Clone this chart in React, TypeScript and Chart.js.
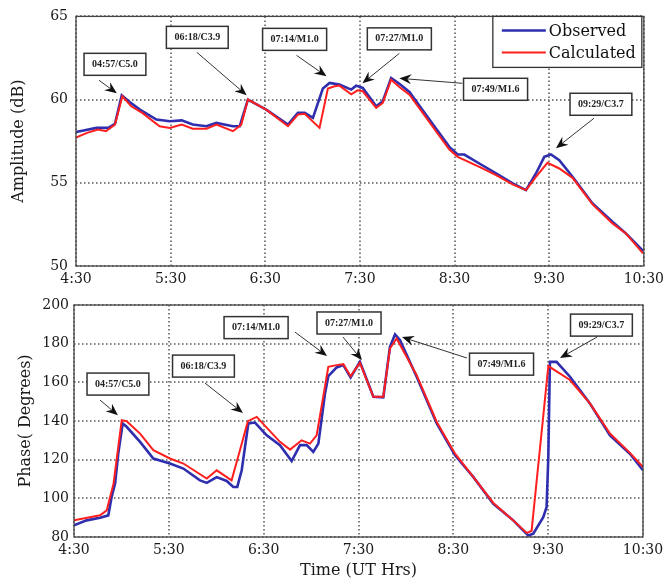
import React, { useEffect, useRef } from "react";
import { Chart, registerables } from "chart.js";

Chart.register(...registerables);

// Time axis in minutes after 00:00 UT
const timeTicks = [270, 330, 390, 450, 510, 570, 630];
const ampTicks = [50, 55, 60, 65];
const phaseTicks = [80, 100, 120, 140, 160, 180, 200];

const ampObsTime = [270, 283, 290.5, 294.7, 299, 304, 310.5, 321, 329.5, 337, 344, 352.7, 359, 369.5, 373.8, 379, 390.6, 404.4, 410.7, 415, 420.2, 426.5, 430.8, 437, 444.5, 447.6, 451.8, 460.3, 464.5, 469.8, 475, 481.4, 489.8, 498.2, 506.7, 512, 516.2, 525.7, 536.3, 546.8, 555.3, 561.6, 566.9, 571.1, 576.4, 584.8, 597.5, 610.1, 618.6, 629.5];
const ampObs = [58.05, 58.3, 58.3, 58.55, 60.26, 59.86, 59.4, 58.8, 58.7, 58.75, 58.5, 58.4, 58.6, 58.4, 58.4, 60.0, 59.4, 58.5, 59.2, 59.2, 58.9, 60.66, 61.0, 60.9, 60.6, 60.84, 60.7, 59.6, 59.9, 61.3, 60.95, 60.46, 59.36, 58.26, 57.16, 56.7, 56.7, 56.16, 55.56, 54.96, 54.56, 55.56, 56.56, 56.7, 56.36, 55.36, 53.76, 52.66, 51.96, 50.9];

const ampCalcTime = [270, 277, 284, 289, 294.7, 299.4, 305, 312, 323, 329.5, 337, 344, 352.7, 359, 369.5, 374.8, 379, 390.6, 404.4, 410.7, 415, 424.4, 429.7, 434, 437, 444.5, 448.5, 451.8, 460.3, 464.5, 469.8, 475, 481.4, 489.8, 498.2, 506.7, 512, 525.7, 536.3, 546.8, 555.3, 561.6, 568.9, 576.4, 584.8, 597.5, 610.1, 618.6, 629.5];
const ampCalc = [57.72, 58.0, 58.2, 58.1, 58.5, 60.2, 59.6, 59.2, 58.4, 58.3, 58.5, 58.25, 58.25, 58.5, 58.1, 58.5, 60.0, 59.4, 58.4, 59.1, 59.15, 58.3, 60.66, 60.8, 60.84, 60.32, 60.56, 60.5, 59.5, 59.8, 61.2, 60.76, 60.3, 59.2, 58.1, 57.0, 56.56, 55.96, 55.46, 54.9, 54.56, 55.36, 56.2, 55.86, 55.3, 53.7, 52.56, 51.96, 50.76];

const phaseObsTime = [270, 278, 286.5, 291.7, 293.8, 296, 298, 300.8, 303.3, 311.8, 320.2, 330.7, 339.2, 349.7, 354, 360.3, 366.6, 370.8, 373.3, 376.1, 380.3, 384.5, 391.9, 400.3, 407.7, 413, 417.2, 421.4, 424.6, 428.8, 430.9, 436.2, 440.4, 445, 450.9, 459.4, 465.7, 469.9, 473.1, 476.2, 486.8, 499.5, 511.1, 522.6, 535.3, 547.9, 557.4, 560.6, 566.9, 569, 570.1, 571.1, 575.3, 583.8, 596.4, 609.1, 621.7, 630];
const phaseObs = [86.0, 88.6, 90.0, 91.2, 100.7, 107.6, 123.1, 138.7, 137.0, 129.2, 120.6, 118.0, 115.4, 109.3, 108.0, 111.0, 109.0, 105.9, 105.9, 114.5, 138.7, 139.2, 132.6, 127.5, 119.3, 127.5, 127.5, 124.0, 128.3, 154.2, 163.2, 167.7, 168.9, 162.5, 170.6, 152.5, 152.2, 178.4, 184.8, 181.9, 162.9, 138.7, 122.3, 111.1, 97.2, 88.6, 80.8, 81.7, 90.3, 95.5, 121.4, 170.6, 170.6, 162.9, 149.1, 132.6, 123.1, 114.5];

const phaseCalcTime = [270, 286.5, 290.7, 295, 300.2, 303.3, 311.8, 320.2, 330.7, 339.2, 354, 360.3, 369.7, 375, 380, 385.6, 400.3, 406.7, 414, 419.3, 423.5, 430.9, 436.2, 440.4, 445, 450.9, 459.4, 465.7, 469.9, 474.1, 486.8, 499.5, 511.1, 522.6, 535.3, 547.9, 556.4, 559.5, 570.1, 583.8, 596.4, 609.1, 621.7, 630];
const phaseCalc = [88.6, 91.2, 93.8, 107.6, 140.4, 139.9, 133.5, 124.9, 120.6, 118.0, 110.2, 114.5, 109.3, 124.9, 139.9, 142.1, 129.2, 125.2, 130.0, 128.3, 132.6, 168.0, 168.9, 169.4, 163.2, 170.1, 152.5, 152.5, 177.5, 182.7, 163.7, 139.5, 123.1, 111.1, 97.6, 88.6, 82.1, 83.1, 168.4, 161.2, 149.1, 133.5, 123.5, 116.2];

// Flare callouts: label, box centre (time, value), arrow tail, arrow head
const flareLabels = ["04:57/C5.0", "06:18/C3.9", "07:14/M1.0", "07:27/M1.0", "07:49/M1.6", "09:29/C3.7"];
const ampBoxAt = [[294.7, 62.12], [346.9, 63.74], [408.6, 63.62], [475, 63.65], [536, 60.62], [602.8, 59.72]];
const ampTail = [[284.6, 61.16], [346.6, 62.84], [409.8, 62.66], [475, 62.78], [514.9, 60.98], [598.4, 58.88]];
const ampHead = [[295.9, 60.38], [378.2, 60.26], [428.8, 61.4], [451.6, 60.98], [475, 61.28], [574.3, 57.08]];
const phaseBoxAt = [[297.8, 159.1], [351.9, 168.4], [385.2, 188.3], [444, 190.7], [540.5, 169.4], [603.7, 189.6]];
const phaseTail = [[286.5, 150.8], [352.9, 159.6], [409.8, 186.0], [440.2, 183.4], [518.6, 172.6], [600.9, 183.4]];
const phaseHead = [[297.8, 143.0], [376.9, 144.1], [430.1, 173.6], [452.2, 171.5], [477.5, 183.4], [577.5, 172.6]];

const seriesNames = ["Observed", "Calculated"];
const BLUE = "#2e2eae";
const RED = "#ff1f1f";
const SERIF = "'DejaVu Serif', serif";

const toPts = (xs: number[], ys: number[]) => xs.map((x, i) => ({ x, y: ys[i] }));
const fmtTime = (v: number) => `${Math.floor(v / 60)}:${String(Math.round(v % 60)).padStart(2, "0")}`;

function drawArrow(ctx: CanvasRenderingContext2D, x1: number, y1: number, x2: number, y2: number) {
  const ang = Math.atan2(y2 - y1, x2 - x1);
  const L = 12, W = 5, notch = 4;
  ctx.strokeStyle = "#333";
  ctx.lineWidth = 1;
  ctx.setLineDash([]);
  ctx.beginPath();
  ctx.moveTo(x1, y1);
  ctx.lineTo(x2 - Math.cos(ang) * (L - notch), y2 - Math.sin(ang) * (L - notch));
  ctx.stroke();
  ctx.save();
  ctx.translate(x2, y2);
  ctx.rotate(ang);
  ctx.fillStyle = "#111";
  ctx.beginPath();
  ctx.moveTo(0, 0);
  ctx.lineTo(-L, -W);
  ctx.lineTo(-L + notch, 0);
  ctx.lineTo(-L, W);
  ctx.closePath();
  ctx.fill();
  ctx.restore();
}

function makeOverlay(xTicks: number[], yTicks: number[], boxAt: number[][], tail: number[][], head: number[][], legend: boolean) {
  return {
    id: "overlay",
    beforeDatasetsDraw(chart: any) {
      const { ctx, chartArea: a, scales } = chart;
      ctx.save();
      ctx.strokeStyle = "#555";
      ctx.lineWidth = 1.5;
      ctx.setLineDash([1.5, 2.5]);
      xTicks.forEach((v) => {
        const x = Math.round(scales.x.getPixelForValue(v));
        ctx.beginPath();
        ctx.moveTo(x, a.top);
        ctx.lineTo(x, a.bottom);
        ctx.stroke();
      });
      yTicks.forEach((v) => {
        const y = Math.round(scales.y.getPixelForValue(v));
        ctx.beginPath();
        ctx.moveTo(a.left, y);
        ctx.lineTo(a.right, y);
        ctx.stroke();
      });
      ctx.restore();
    },
    afterDatasetsDraw(chart: any) {
      const { ctx, chartArea: a, scales } = chart;
      const sx = scales.x, sy = scales.y;
      ctx.save();
      // axes frame
      ctx.strokeStyle = "#444";
      ctx.lineWidth = 1.3;
      ctx.setLineDash([]);
      ctx.strokeRect(a.left, a.top, a.right - a.left, a.bottom - a.top);
      // callouts
      ctx.font = `bold 10px 'Liberation Serif', serif`;
      flareLabels.forEach((lab, i) => {
        drawArrow(
          ctx,
          sx.getPixelForValue(tail[i][0]), sy.getPixelForValue(tail[i][1]),
          sx.getPixelForValue(head[i][0]), sy.getPixelForValue(head[i][1])
        );
      });
      flareLabels.forEach((lab, i) => {
        const cx = sx.getPixelForValue(boxAt[i][0]);
        const cy = sy.getPixelForValue(boxAt[i][1]);
        const w = ctx.measureText(lab).width + 16;
        const h = 22;
        ctx.fillStyle = "#fff";
        ctx.fillRect(cx - w / 2, cy - h / 2, w, h);
        ctx.strokeStyle = "#333";
        ctx.lineWidth = 1.5;
        ctx.strokeRect(cx - w / 2, cy - h / 2, w, h);
        ctx.fillStyle = "#222";
        ctx.textAlign = "center";
        ctx.textBaseline = "middle";
        ctx.fillText(lab, cx, cy);
      });
      if (legend) {
        const w = 149, h = 51;
        const x0 = a.right - w - 2, y0 = a.top;
        ctx.fillStyle = "#fff";
        ctx.fillRect(x0, y0, w, h);
        ctx.strokeStyle = "#333";
        ctx.lineWidth = 1.3;
        ctx.strokeRect(x0, y0, w, h);
        ctx.font = `16px ${SERIF}`;
        ctx.textAlign = "left";
        ctx.textBaseline = "middle";
        [BLUE, RED].forEach((c, i) => {
          const y = y0 + 14 + i * 22;
          ctx.strokeStyle = c;
          ctx.lineWidth = i === 0 ? 2.5 : 2;
          ctx.beginPath();
          ctx.moveTo(x0 + 9, y);
          ctx.lineTo(x0 + 53, y);
          ctx.stroke();
          ctx.fillStyle = "#111";
          ctx.fillText(seriesNames[i], x0 + 56, y + 1);
        });
      }
      ctx.restore();
    },
  };
}

function makeConfig(opts: {
  obs: { x: number; y: number }[];
  calc: { x: number; y: number }[];
  yTicks: number[];
  yTitle: string;
  yTitlePad: number;
  yWidth: number;
  yTickPad: number;
  padTop: number;
  padRight: number;
  xHeight: number;
  xTitle: string | null;
  overlay: any;
}): any {
  const tickFont = { family: SERIF, size: 14 };
  return {
    type: "line",
    data: {
      datasets: [
        { label: seriesNames[0], data: opts.obs, borderColor: BLUE, borderWidth: 2.6, pointRadius: 0, tension: 0, order: 2 },
        { label: seriesNames[1], data: opts.calc, borderColor: RED, borderWidth: 2, pointRadius: 0, tension: 0, order: 1 },
      ],
    },
    options: {
      responsive: false,
      animation: false,
      events: [],
      layout: { padding: { left: 0, top: opts.padTop, right: opts.padRight, bottom: 0 } },
      plugins: { legend: { display: false }, tooltip: { enabled: false } },
      scales: {
        x: {
          type: "linear",
          min: timeTicks[0],
          max: timeTicks[timeTicks.length - 1],
          afterBuildTicks: (s: any) => { s.ticks = timeTicks.map((v) => ({ value: v })); },
          afterFit: (s: any) => { s.height = opts.xHeight; },
          ticks: { font: tickFont, color: "#1a1a1a", padding: 5, maxRotation: 0, autoSkip: false, callback: (v: any) => fmtTime(Number(v)) },
          grid: { display: false, drawTicks: false },
          border: { display: false },
          title: opts.xTitle
            ? { display: true, text: opts.xTitle, font: { family: SERIF, size: 16 }, color: "#1a1a1a", padding: { top: 0, bottom: 1 } }
            : { display: false },
        },
        y: {
          type: "linear",
          min: opts.yTicks[0],
          max: opts.yTicks[opts.yTicks.length - 1],
          afterBuildTicks: (s: any) => { s.ticks = opts.yTicks.map((v) => ({ value: v })); },
          afterFit: (s: any) => { s.width = opts.yWidth; },
          ticks: { font: tickFont, color: "#1a1a1a", padding: opts.yTickPad, autoSkip: false },
          grid: { display: false, drawTicks: false },
          border: { display: false },
          title: { display: true, text: opts.yTitle, font: { family: SERIF, size: 16 }, color: "#1a1a1a", padding: { top: opts.yTitlePad, bottom: 0 } },
        },
      },
    },
    plugins: [opts.overlay],
  };
}

export default function App() {
  const topRef = useRef<HTMLCanvasElement>(null);
  const botRef = useRef<HTMLCanvasElement>(null);

  useEffect(() => {
    const top = new Chart(topRef.current!, makeConfig({
      obs: toPts(ampObsTime, ampObs),
      calc: toPts(ampCalcTime, ampCalc),
      yTicks: ampTicks,
      yTitle: "Amplitude (dB)",
      yTitlePad: 9,
      yWidth: 76,
      yTickPad: 8,
      padTop: 16,
      padRight: 24,
      xHeight: 24,
      xTitle: null,
      overlay: makeOverlay(timeTicks, ampTicks, ampBoxAt, ampTail, ampHead, true),
    }));
    const bot = new Chart(botRef.current!, makeConfig({
      obs: toPts(phaseObsTime, phaseObs),
      calc: toPts(phaseCalcTime, phaseCalc),
      yTicks: phaseTicks,
      yTitle: "Phase( Degrees)",
      yTitlePad: 16,
      yWidth: 74,
      yTickPad: 5,
      padTop: 15,
      padRight: 26,
      xHeight: 44,
      xTitle: "Time (UT Hrs)",
      overlay: makeOverlay(timeTicks, phaseTicks, phaseBoxAt, phaseTail, phaseHead, false),
    }));
    return () => { top.destroy(); bot.destroy(); };
  }, []);

  return (
    <div style={{ position: "absolute", left: 0, top: 0, width: 669, height: 581, background: "#fff" }}>
      <canvas ref={topRef} width={669} height={290} style={{ display: "block", width: 669, height: 290 }} />
      <canvas ref={botRef} width={669} height={291} style={{ display: "block", width: 669, height: 291 }} />
    </div>
  );
}
